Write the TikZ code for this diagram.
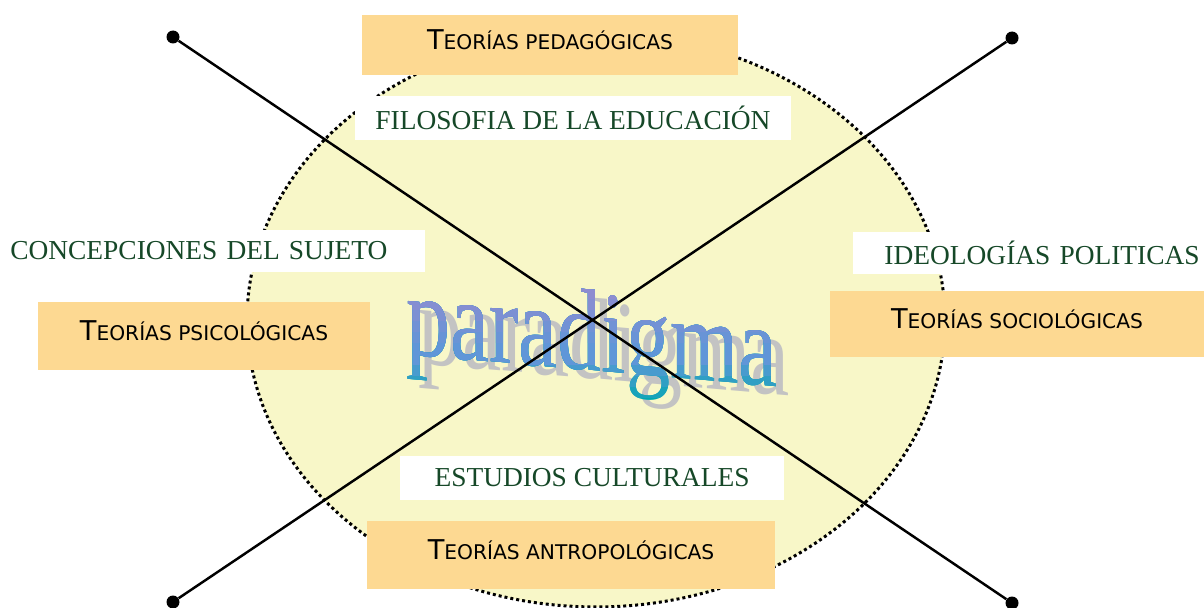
\documentclass[tikz,border=0pt]{standalone}
\usepackage{fontspec}
\setmainfont{Liberation Serif}
\newfontfamily\teofont{DejaVu Sans}
\usetikzlibrary{shapes.geometric}

% small caps by hand: first letter big, the rest small
\newcommand{\teo}[2]{{\teofont\fontsize{15.5}{16}\selectfont #1\fontsize{11.5}{12}\selectfont #2}}

\begin{document}
\begin{tikzpicture}[x=0.02cm,y=-0.02cm,
  teobox/.style={fill=pd_tan,inner sep=0pt,text depth=6pt},
  temabox/.style={fill=white,text=pd_green,inner sep=0pt,font=\fontsize{15.6}{16}\selectfont},
  wordart/.style={inner sep=0pt,xscale=0.76,yslant=-0.065,font=\fontsize{66}{66}\selectfont},
  punta/.style={circle,fill=black,inner sep=0pt,minimum size=0.26cm},
  eje/.style={line width=1.4pt}]

% ------------------------------------------------ paradigma colors
\definecolor{pd_yellow}{RGB}{248,247,200} %#F8F7C8
\definecolor{pd_tan}{RGB}{253,217,146}    %#FDD992
\definecolor{pd_green}{RGB}{22,72,40}     %#164828
\definecolor{pd_shadow}{RGB}{195,195,195} %#C3C3C3
\definecolor{pd_top}{RGB}{142,140,208}    %#8E8CD0
\definecolor{pd_mid}{RGB}{96,150,216}     %#6096D8
\definecolor{pd_bot}{RGB}{0,168,176}      %#00A8B0

\useasboundingbox (0,0) rectangle (1204,608);

\node[ellipse,fill=pd_yellow,draw=black,line width=1.7pt,dash pattern=on 1.7pt off 1.7pt,
  inner sep=0pt,minimum width=13.96cm,minimum height=11.48cm] (campo) at (596,320) {};

% word art: shadow, then bands from teal (bottom) up to lavender (top)
\node[wordart,text=pd_shadow] (sombra) at (604,352) {paradigma};
\foreach \k in {0,...,4}{
  \pgfmathsetmacro\yc{408-11*\k}
  \pgfmathsetmacro\pc{25*\k}
  \begin{scope}
    \clip (380,260) rectangle (800,\yc);
    \node[wordart,text=pd_mid!\pc!pd_bot] (wa\k) at (592,343) {paradigma};
  \end{scope}
}
\foreach \k in {1,...,5}{
  \pgfmathsetmacro\yc{353-11*\k}
  \pgfmathsetmacro\pc{20*\k}
  \begin{scope}
    \clip (380,260) rectangle (800,\yc);
    \node[wordart,text=pd_top!\pc!pd_mid] (wb\k) at (592,343) {paradigma};
  \end{scope}
}

\node[teobox,minimum width=7.52cm,minimum height=1.2cm] (ped) at (550,45) {\teo{T}{EORÍAS PEDAGÓGICAS}};
\node[teobox,minimum width=6.64cm,minimum height=1.36cm] (psi) at (204,336) {\teo{T}{EORÍAS PSICOLÓGICAS}};
\node[teobox,minimum width=7.48cm,minimum height=1.32cm] (soc) at (1017,324) {\teo{T}{EORÍAS SOCIOLÓGICAS}};
\node[teobox,minimum width=8.16cm,minimum height=1.36cm] (ant) at (571,555) {\teo{T}{EORÍAS ANTROPOLÓGICAS}};

\node[temabox,minimum width=8.74cm,minimum height=0.88cm] (fil) at (573,118) {FILOSOFIA DE LA EDUCACIÓN};
\node[temabox,anchor=west,align=left,text width=8.1cm,inner xsep=0.2cm,minimum height=0.86cm] (suj) at (0,251) {CONCEPCIONES DEL SUJETO};
\node[temabox,anchor=east,align=right,text width=6.86cm,inner xsep=0.08cm,minimum height=0.86cm] (ide) at (1204,253) {IDEOLOGÍAS POLITICAS};
\node[temabox,minimum width=7.68cm,minimum height=0.9cm] (est) at (592,478) {ESTUDIOS CULTURALES};

\node[punta] (tl) at (173,37) {};
\node[punta] (tr) at (1012,38) {};
\node[punta] (bl) at (173,602) {};
\node[punta] (br) at (1012,603) {};
\draw[eje] (tl) -- (br);
\draw[eje] (tr) -- (bl);

\end{tikzpicture}
\end{document}
